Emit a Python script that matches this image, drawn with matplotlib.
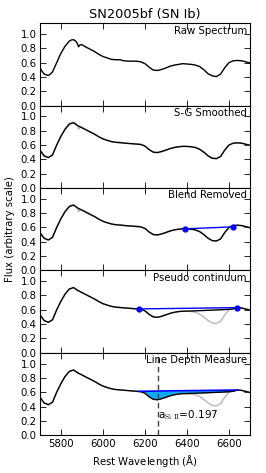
import matplotlib
matplotlib.use("Agg")
import matplotlib.pyplot as plt
import numpy as np

# ---- data ----
wave = [5700, 5720, 5740, 5760, 5780, 5800, 5820, 5840, 5860, 5880,
        5900, 5920, 5940, 5960, 5980, 6000, 6020, 6040, 6060, 6080,
        6100, 6120, 6140, 6160, 6180, 6200, 6220, 6240, 6260, 6280,
        6300, 6320, 6340, 6360, 6380, 6400, 6420, 6440, 6460, 6480,
        6500, 6520, 6540, 6560, 6580, 6600, 6620, 6640, 6660, 6680, 6700]

smooth_flux = [0.53, 0.45, 0.425, 0.46, 0.60, 0.72, 0.82, 0.89, 0.91, 0.87,
               0.84, 0.81, 0.78, 0.75, 0.715, 0.685, 0.665, 0.648, 0.637, 0.632,
               0.627, 0.622, 0.617, 0.612, 0.607, 0.585, 0.535, 0.50, 0.495, 0.51,
               0.53, 0.55, 0.565, 0.575, 0.58, 0.58, 0.575, 0.565, 0.54, 0.50,
               0.45, 0.415, 0.41, 0.44, 0.53, 0.60, 0.625, 0.63, 0.625, 0.61, 0.595]

raw_wave = [5700, 5710, 5720, 5730, 5740, 5750, 5760, 5780, 5800, 5820,
            5840, 5850, 5860, 5870, 5878, 5884, 5890, 5900, 5920, 5940,
            5960, 5980, 6000, 6020, 6040, 6060, 6080, 6100, 6120, 6140,
            6160, 6180, 6200, 6220, 6240, 6260, 6280, 6300, 6320, 6340,
            6360, 6380, 6400, 6420, 6440, 6460, 6480, 6500, 6520, 6540,
            6560, 6580, 6600, 6620, 6640, 6660, 6680, 6700]
raw_flux = [0.53, 0.48, 0.44, 0.43, 0.42, 0.44, 0.47, 0.60, 0.73, 0.83,
            0.90, 0.915, 0.92, 0.90, 0.87, 0.82, 0.845, 0.85, 0.815, 0.785,
            0.755, 0.715, 0.685, 0.665, 0.645, 0.64, 0.64, 0.625, 0.62, 0.62,
            0.62, 0.61, 0.585, 0.535, 0.495, 0.49, 0.505, 0.525, 0.55, 0.565,
            0.575, 0.585, 0.58, 0.575, 0.565, 0.545, 0.50, 0.445, 0.415, 0.405,
            0.44, 0.53, 0.60, 0.625, 0.63, 0.625, 0.61, 0.595]

# smoothed spectrum with the blend (6390-6620) removed
blend_flux = [0.53, 0.45, 0.425, 0.46, 0.60, 0.72, 0.82, 0.89, 0.91, 0.87,
              0.84, 0.81, 0.78, 0.75, 0.715, 0.685, 0.665, 0.648, 0.637, 0.632,
              0.627, 0.622, 0.617, 0.612, 0.607, 0.585, 0.535, 0.50, 0.495, 0.51,
              0.53, 0.55, 0.565, 0.575, 0.58, 0.581, 0.583, 0.585, 0.588, 0.590,
              0.593, 0.595, 0.598, 0.600, 0.603, 0.606, 0.612, 0.63, 0.625, 0.61, 0.595]

blend_pts_w = [6390, 6620]
blend_pts_f = [0.58, 0.607]
cont_pts_w = [6170, 6640]
cont_pts_f = [0.612, 0.63]

line_center = 6260
depth_label = r"a$_{\mathrm{Si\ II}}$=0.197"

panel_labels = ["Raw Spectrum", "S-G Smoothed", "Blend Removed",
                "Pseudo continuum", "Line Depth Measure"]
yticks = [0.0, 0.2, 0.4, 0.6, 0.8, 1.0]
xticks = [5800, 6000, 6200, 6400, 6600]

# ---- figure ----
fig = plt.figure(figsize=(2.66, 4.73), dpi=100)
left, right, top, bottom = 0.150, 0.940, 0.951, 0.080
n = 5
h = (top - bottom) / n
axes = []
for i in range(n):
    ax = fig.add_axes([left, top - (i + 1) * h, right - left, h])
    axes.append(ax)

grey = "#b8b8b8"
for i, ax in enumerate(axes):
    ax.set_xlim(5700, 6700)
    ax.set_ylim(0, 1.15)
    ax.set_yticks(yticks)
    ax.set_yticklabels([f"{v:.1f}" for v in yticks])
    ax.set_xticks(xticks)
    ax.tick_params(direction="in", top=True, right=True, length=4, width=0.6,
                   labelsize=7.3, pad=2.5)
    for s in ax.spines.values():
        s.set_linewidth(0.8)
    if i < n - 1:
        ax.tick_params(labelbottom=False)
    ax.text(0.985, 0.97, panel_labels[i], transform=ax.transAxes,
            ha="right", va="top", fontsize=7.3)

lw = 1.0
# panel 1
axes[0].plot(raw_wave, raw_flux, color="black", lw=lw)
# panel 2
axes[1].plot(raw_wave, raw_flux, color=grey, lw=lw)
axes[1].plot(wave, smooth_flux, color="black", lw=lw)
# panel 3
axes[2].plot(raw_wave, raw_flux, color=grey, lw=lw)
axes[2].plot(wave, smooth_flux, color="black", lw=lw)
axes[2].plot(blend_pts_w, blend_pts_f, color="blue", lw=1.0, marker="o",
             ms=3.5, mec="blue", mfc="blue")
# panel 4
axes[3].plot(wave, smooth_flux, color=grey, lw=lw)
axes[3].plot(wave, blend_flux, color="black", lw=lw)
axes[3].plot(cont_pts_w, cont_pts_f, color="blue", lw=1.0, marker="o",
             ms=3.5, mec="blue", mfc="blue")
# panel 5
ax = axes[4]
ax.plot(wave, smooth_flux, color=grey, lw=lw)
ax.plot(wave, blend_flux, color="black", lw=lw)
w = np.array(wave, dtype=float)
bf = np.array(blend_flux)
mask = (w >= cont_pts_w[0]) & (w <= cont_pts_w[1])
wm = np.concatenate([[cont_pts_w[0]], w[mask], [cont_pts_w[1]]])
fm = np.interp(wm, w, bf)
cm = np.interp(wm, cont_pts_w, cont_pts_f)
ax.fill_between(wm, fm, cm, color="#0aaaf5", lw=0)
ax.plot(cont_pts_w, cont_pts_f, color="blue", lw=1.2)
ax.axvline(line_center, color="#444444", ls="--", lw=1.0, dashes=(4, 2.5))
ax.text(line_center, 0.28, depth_label, fontsize=7.5, ha="left", va="center",
        math_fontfamily="cm")
ax.set_xticklabels([str(x) for x in xticks])
ax.set_xlabel(r"Rest Wavelength ($\rm\AA$)", fontsize=7.3, labelpad=3)

axes[2].set_ylabel("Flux (arbitrary scale)", fontsize=7.3, labelpad=4)
axes[0].set_title("SN2005bf (SN Ib)", fontsize=9.3, pad=4)

fig.savefig("out.png", dpi=100)
